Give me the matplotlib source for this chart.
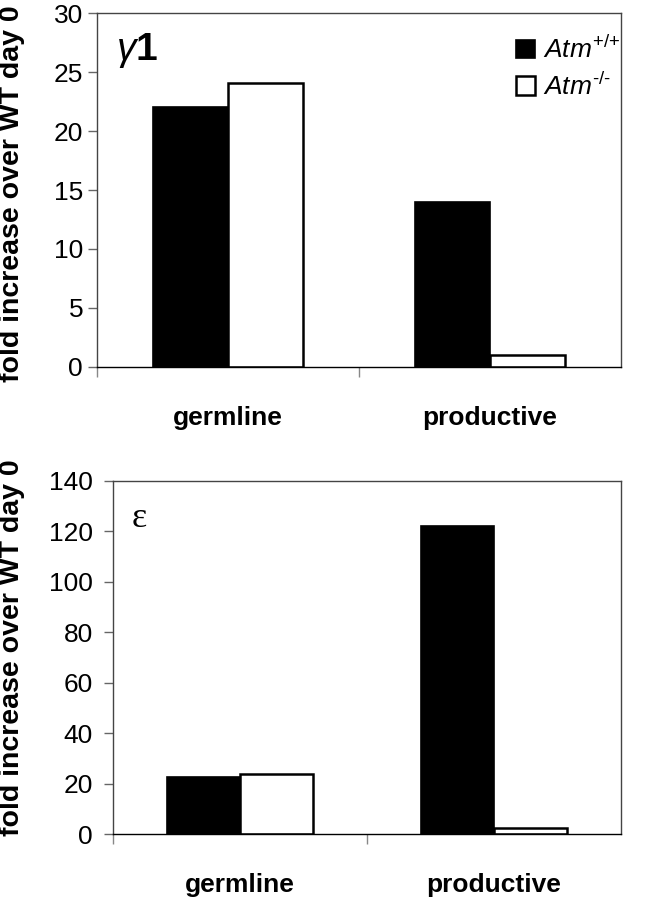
import numpy as np
import matplotlib.pyplot as plt

plt.rcParams['font.family'] = ['Liberation Sans', 'DejaVu Sans']
plt.rcParams['mathtext.fontset'] = 'custom'
plt.rcParams['mathtext.rm'] = 'Liberation Sans'
plt.rcParams['mathtext.it'] = 'Liberation Sans:italic'
plt.rcParams['mathtext.bf'] = 'Liberation Sans:bold'

categories = ['germline', 'productive']
series = [r'$Atm^{\text{+/+}}$', r'$Atm^{\text{-/-}}$']

# gamma1 panel
g1_wt = [22.0, 14.0]
g1_ko = [24.1, 1.0]
# epsilon panel
eps_wt = [22.5, 122.0]
eps_ko = [24.0, 2.6]

fig = plt.figure(figsize=(6.5, 8.99), dpi=100)
ax1 = fig.add_axes([0.1492, 0.5918, 0.8062, 0.3937])
ax2 = fig.add_axes([0.1738, 0.0720, 0.7816, 0.3933])

x = np.arange(len(categories))
w = 0.286
spine_col = '#444444'


def style(ax, ymax, step, ypad):
    ax.set_xlim(-0.5, 1.5)
    ax.set_ylim(0, ymax)
    ax.set_yticks(np.arange(0, ymax + 1, step))
    ax.tick_params(axis='y', direction='out', length=6.5, width=1,
                   color='#666666', labelsize=19, pad=ypad)
    ax.set_xticks(x)
    ax.set_xticklabels(categories, fontsize=19, fontweight='bold')
    ax.tick_params(axis='x', which='major', length=0, pad=28)
    ax.set_xticks([-0.5, 0.5], minor=True)
    ax.tick_params(axis='x', which='minor', direction='out', length=7,
                   width=1, color='#888888')
    for s in ax.spines.values():
        s.set_color(spine_col)
        s.set_linewidth(1.0)
    ax.spines['bottom'].set_color('black')


for ax, wt, ko, ymax, step, ypad in [(ax1, g1_wt, g1_ko, 30, 5, 3.5),
                                       (ax2, eps_wt, eps_ko, 140, 20, 8)]:
    ax.bar(x - w / 2, wt, width=w, color='black', edgecolor='black',
           linewidth=1.2, label=series[0])
    ax.bar(x + w / 2, ko, width=w, color='white', edgecolor='black',
           linewidth=1.8, label=series[1])
    style(ax, ymax, step, ypad)

ax1.legend(loc='upper left', bbox_to_anchor=(0.80, 0.935), frameon=False,
           fontsize=19, handlelength=0.72, handleheight=0.72,
           handletextpad=0.3, labelspacing=0.36, borderpad=0, borderaxespad=0)

ax1.text(0.036, 0.895, r'$\gamma$1', transform=ax1.transAxes, fontsize=28,
         fontweight='bold', ha='left', va='center')
ax2.text(0.037, 0.894, 'ε', transform=ax2.transAxes, fontsize=26,
         family='Liberation Serif', ha='left', va='center')

fig.text(0.0185, 0.785, 'fold increase over WT day 0', rotation=90,
         fontsize=20.5, fontweight='bold', ha='center', va='center')
fig.text(0.0185, 0.2797, 'fold increase over WT day 0', rotation=90,
         fontsize=20.5, fontweight='bold', ha='center', va='center')

fig.savefig('out.png', dpi=100)
